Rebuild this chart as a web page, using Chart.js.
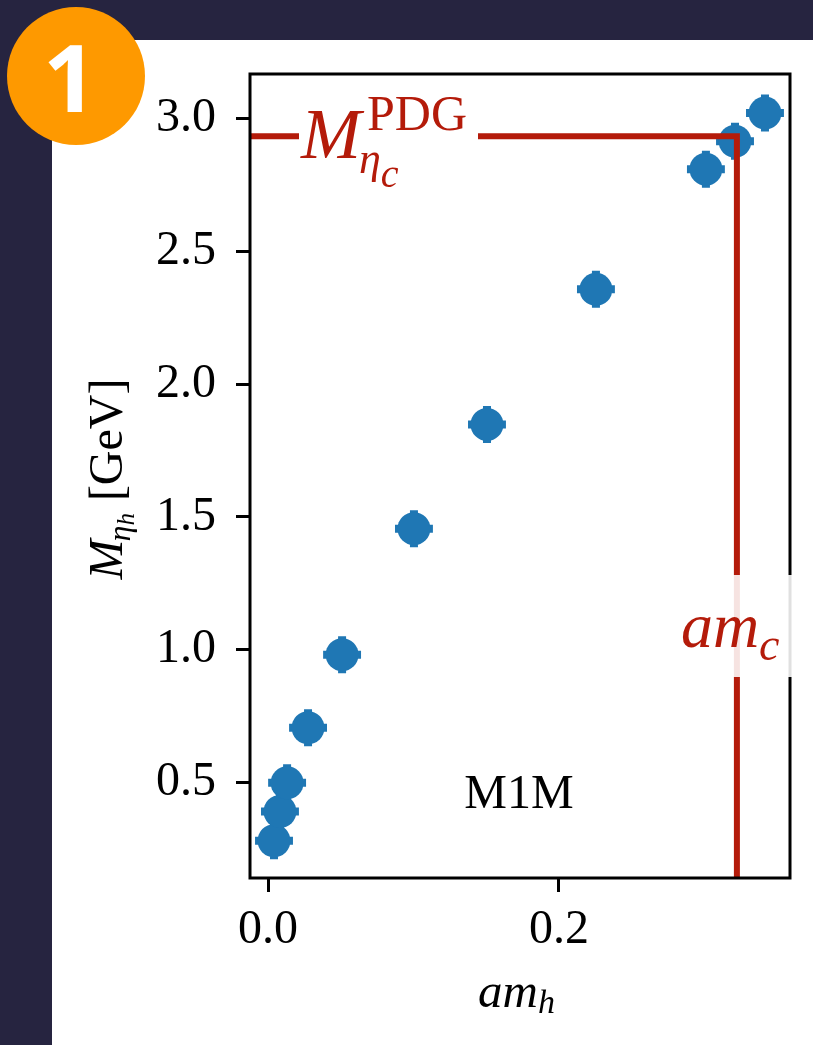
<!DOCTYPE html>
<html>
<head>
<meta charset="utf-8">
<script src="https://cdn.jsdelivr.net/npm/chart.js@4.4.1/dist/chart.umd.min.js"></script>
<style>
  html, body { margin: 0; padding: 0; }
  body { width: 813px; height: 1045px; background: #262440; position: relative; overflow: hidden; }
  #panel { position: absolute; left: 52px; top: 40px; right: 0; bottom: 0; background: #fff; }
  #wrap { position: absolute; left: 0; top: 0; width: 813px; height: 1045px; }
  #badge { position: absolute; left: 7px; top: 7px; width: 138px; height: 138px; border-radius: 50%;
    background: #fe9900; color: #fff; font: bold 94px "Noto Sans", Roboto, sans-serif;
    text-align: center; line-height: 138px; box-sizing: border-box; padding-right: 12px; }
</style>
</head>
<body>
<div id="panel"></div>
<div id="wrap"><canvas id="massChart"></canvas></div>
<div id="badge">1</div>
<script>
// am_h values and eta_h masses (GeV)
const amh = [0.0041, 0.0082, 0.0131, 0.0275, 0.0509, 0.1003, 0.1505, 0.2254, 0.3010, 0.3210, 0.3416];
const mEtaH = [0.282, 0.392, 0.500, 0.707, 0.982, 1.456, 1.848, 2.356, 2.808, 2.913, 3.019];
const amhErr = [0.012, 0.012, 0.012, 0.012, 0.012, 0.012, 0.012, 0.012, 0.012, 0.012, 0.012];
const mErr = [0.064, 0.064, 0.064, 0.064, 0.064, 0.064, 0.064, 0.064, 0.064, 0.064, 0.064];

const xTicks = [0.0, 0.2];
const yTicks = [0.5, 1.0, 1.5, 2.0, 2.5, 3.0];
const xRange = [-0.0124, 0.3588];
const yRange = [0.142, 3.166];

// reference lines
const mPDG = 2.932;
const amc = 0.3223;

const RED = '#b41b0a';
const BLUE = '#1f77b4';
const SERIF = '"Liberation Serif", "Times New Roman", serif';

function drawParts(c, parts, x, y) {
  let cx = x;
  parts.forEach(p => {
    c.font = p.font;
    c.fillText(p.text, cx + (p.dx || 0), y + (p.dy || 0));
    cx += c.measureText(p.text).width + (p.dx || 0);
  });
  return cx - x;
}

function partsWidth(c, parts) {
  let w = 0;
  parts.forEach(p => {
    c.font = p.font;
    w += c.measureText(p.text).width + (p.dx || 0);
  });
  return w;
}

const extras = {
  id: 'extras',
  beforeDatasetsDraw(chart) {
    const c = chart.ctx;
    const xs = chart.scales.x, ys = chart.scales.y;
    c.save();
    c.strokeStyle = BLUE;
    c.lineWidth = 3;
    for (let i = 0; i < amh.length; i++) {
      const px = xs.getPixelForValue(amh[i]);
      const py = ys.getPixelForValue(mEtaH[i]);
      const x1 = xs.getPixelForValue(amh[i] - amhErr[i]);
      const x2 = xs.getPixelForValue(amh[i] + amhErr[i]);
      const y1 = ys.getPixelForValue(mEtaH[i] - mErr[i]);
      const y2 = ys.getPixelForValue(mEtaH[i] + mErr[i]);
      c.beginPath();
      c.moveTo(x1, py); c.lineTo(x2, py);
      c.moveTo(px, y1); c.lineTo(px, y2);
      c.moveTo(x1, py - 4); c.lineTo(x1, py + 4);
      c.moveTo(x2, py - 4); c.lineTo(x2, py + 4);
      c.moveTo(px - 4, y1); c.lineTo(px + 4, y1);
      c.moveTo(px - 4, y2); c.lineTo(px + 4, y2);
      c.stroke();
    }
    c.restore();
  },
  afterDatasetsDraw(chart) {
    const c = chart.ctx;
    const a = chart.chartArea;
    const xs = chart.scales.x, ys = chart.scales.y;
    c.save();

    // frame
    c.strokeStyle = '#000';
    c.lineWidth = 3;
    c.strokeRect(a.left, a.top, a.right - a.left, a.bottom - a.top);

    // M_eta_c^PDG label
    const hy = ys.getPixelForValue(mPDG);
    c.fillStyle = '#fff';
    c.fillRect(a.left + 49, hy - 8, 179, 16);
    c.fillStyle = RED;
    c.textBaseline = 'alphabetic';
    c.textAlign = 'left';
    c.font = 'italic 72px ' + SERIF;
    const mx = a.left + 51;
    c.fillText('M', mx, hy + 22);
    const wM = c.measureText('M').width;
    c.font = '50px ' + SERIF;
    c.fillText('PDG', mx + wM + 6, hy - 6);
    c.font = 'italic 44px ' + SERIF;
    c.fillText('η', mx + wM - 2, hy + 37);
    const wEta = c.measureText('η').width;
    c.font = 'italic 40px ' + SERIF;
    c.fillText('c', mx + wM - 2 + wEta, hy + 51);

    // am_c label
    const vx = xs.getPixelForValue(amc);
    c.fillStyle = 'rgba(255,255,255,0.88)';
    c.fillRect(vx - 72, 575, 130, 102);
    c.fillStyle = RED;
    drawParts(c, [
      { text: 'am', font: 'italic 64px ' + SERIF },
      { text: 'c', font: 'italic 46px ' + SERIF, dy: 13 }
    ], vx - 56, 647);

    // M1M tag
    c.fillStyle = '#000';
    c.textAlign = 'center';
    c.font = '48px ' + SERIF;
    c.fillText('M1M', 519, 808);

    // x title
    c.textAlign = 'left';
    const xt = [
      { text: 'am', font: 'italic 49px ' + SERIF },
      { text: 'h', font: 'italic 34px ' + SERIF, dy: 6 }
    ];
    const xw = partsWidth(c, xt);
    drawParts(c, xt, 478, 1007);

    // y title
    const yt = [
      { text: 'M', font: 'italic 48px ' + SERIF },
      { text: 'η', font: 'italic 32px ' + SERIF, dy: 8, dx: -2 },
      { text: 'h', font: 'italic 25px ' + SERIF, dy: 12 },
      { text: ' [GeV]', font: '48px ' + SERIF }
    ];
    const yw = partsWidth(c, yt);
    c.translate(122, 479);
    c.rotate(-Math.PI / 2);
    drawParts(c, yt, -yw / 2, 0);
    c.restore();
  }
};

const ctx = document.getElementById('massChart').getContext('2d');

const massChart = new Chart(ctx, {
  type: 'scatter',
  data: {
    datasets: [{
      label: 'M1M',
      data: amh.map((v, i) => ({ x: v, y: mEtaH[i] })),
      backgroundColor: BLUE,
      borderWidth: 0,
      pointRadius: 16.5,
      order: 2
    }, {
      label: 'ref',
      data: [
        { x: xRange[0], y: mPDG },
        { x: amc, y: mPDG },
        { x: amc, y: yRange[0] }
      ],
      showLine: true,
      borderColor: RED,
      borderWidth: 6,
      pointRadius: 0,
      borderJoinStyle: 'miter',
      order: 1
    }]
  },
  options: {
    responsive: true,
    maintainAspectRatio: false,
    animation: false,
    events: [],
    layout: { padding: { top: 74, right: 23, left: 0, bottom: 0 } },
    plugins: {
      legend: { display: false },
      tooltip: { enabled: false }
    },
    scales: {
      x: {
        type: 'linear',
        min: xRange[0],
        max: xRange[1],
        afterBuildTicks: s => { s.ticks = xTicks.map(v => ({ value: v })); },
        afterFit: s => { s.height = 167; },
        border: { display: false },
        grid: { drawOnChartArea: false, drawTicks: true, tickLength: 14, tickWidth: 3, tickColor: '#000' },
        ticks: {
          color: '#000',
          padding: 10,
          maxRotation: 0,
          font: { family: SERIF, size: 48 },
          callback: v => v.toFixed(1)
        }
      },
      y: {
        type: 'linear',
        min: yRange[0],
        max: yRange[1],
        afterBuildTicks: s => { s.ticks = yTicks.map(v => ({ value: v })); },
        afterFit: s => { s.width = 250; },
        border: { display: false },
        grid: { drawOnChartArea: false, drawTicks: true, tickLength: 14, tickWidth: 3, tickColor: '#000' },
        ticks: {
          color: '#000',
          padding: 20,
          font: { family: SERIF, size: 48 },
          callback: v => v.toFixed(1)
        }
      }
    }
  },
  plugins: [extras]
});
</script>
</body>
</html>
